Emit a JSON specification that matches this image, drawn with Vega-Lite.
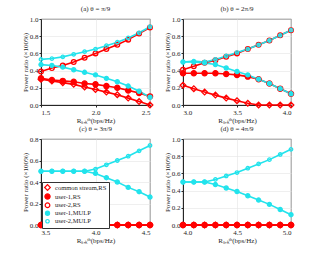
{
  "$schema": "https://vega.github.io/schema/vega-lite/v6.json",
  "background": "white",
  "padding": {"left": 20, "top": 4, "right": 0, "bottom": 2},
  "spacing": 0,
  "config": {
    "font": "Liberation Serif",
    "view": {"stroke": "#262626", "strokeWidth": 0.8},
    "concat": {"spacing": 6},
    "axis": {"labelFont": "Liberation Serif", "titleFont": "Liberation Serif", "labelFontSize": 7, "titleFontSize": 7, "titleFontWeight": "normal", "labelColor": "#262626", "titleColor": "#262626", "domainColor": "#262626", "tickColor": "#262626", "tickSize": 2, "gridColor": "#e4e4e4", "gridWidth": 0.6, "labelPadding": 1, "titlePadding": 1},
    "title": {"font": "Liberation Serif", "fontSize": 7, "fontWeight": "normal", "color": "#262626", "offset": 3},
    "legend": {"labelFont": "Liberation Serif", "labelFontSize": 6.5, "labelColor": "#262626", "orient": "none", "legendX": 1, "legendY": 163, "fillColor": "white", "strokeColor": "#333333", "padding": 2, "rowPadding": -2, "symbolStrokeWidth": 1.2, "labelLimit": 200, "labelOffset": 4, "title": null}
  },
  "data": {"values": [
    {"p":"a","s":"common stream,RS","x":1.5,"y":0.30},{"p":"a","s":"common stream,RS","x":1.6,"y":0.28},{"p":"a","s":"common stream,RS","x":1.7,"y":0.26},{"p":"a","s":"common stream,RS","x":1.8,"y":0.24},{"p":"a","s":"common stream,RS","x":1.9,"y":0.21},{"p":"a","s":"common stream,RS","x":2.0,"y":0.18},{"p":"a","s":"common stream,RS","x":2.1,"y":0.15},{"p":"a","s":"common stream,RS","x":2.2,"y":0.12},{"p":"a","s":"common stream,RS","x":2.3,"y":0.08},{"p":"a","s":"common stream,RS","x":2.4,"y":0.04},{"p":"a","s":"common stream,RS","x":2.5,"y":0.00},
    {"p":"a","s":"user-1,RS","x":1.5,"y":0.31},{"p":"a","s":"user-1,RS","x":1.6,"y":0.29},{"p":"a","s":"user-1,RS","x":1.7,"y":0.28},{"p":"a","s":"user-1,RS","x":1.8,"y":0.27},{"p":"a","s":"user-1,RS","x":1.9,"y":0.25},{"p":"a","s":"user-1,RS","x":2.0,"y":0.24},{"p":"a","s":"user-1,RS","x":2.1,"y":0.22},{"p":"a","s":"user-1,RS","x":2.2,"y":0.20},{"p":"a","s":"user-1,RS","x":2.3,"y":0.17},{"p":"a","s":"user-1,RS","x":2.4,"y":0.14},{"p":"a","s":"user-1,RS","x":2.5,"y":0.10},
    {"p":"a","s":"user-2,RS","x":1.5,"y":0.39},{"p":"a","s":"user-2,RS","x":1.6,"y":0.43},{"p":"a","s":"user-2,RS","x":1.7,"y":0.46},{"p":"a","s":"user-2,RS","x":1.8,"y":0.50},{"p":"a","s":"user-2,RS","x":1.9,"y":0.55},{"p":"a","s":"user-2,RS","x":2.0,"y":0.60},{"p":"a","s":"user-2,RS","x":2.1,"y":0.65},{"p":"a","s":"user-2,RS","x":2.2,"y":0.70},{"p":"a","s":"user-2,RS","x":2.3,"y":0.76},{"p":"a","s":"user-2,RS","x":2.4,"y":0.83},{"p":"a","s":"user-2,RS","x":2.5,"y":0.90},
    {"p":"a","s":"user-1,MULP","x":1.5,"y":0.47},{"p":"a","s":"user-1,MULP","x":1.6,"y":0.46},{"p":"a","s":"user-1,MULP","x":1.7,"y":0.44},{"p":"a","s":"user-1,MULP","x":1.8,"y":0.41},{"p":"a","s":"user-1,MULP","x":1.9,"y":0.38},{"p":"a","s":"user-1,MULP","x":2.0,"y":0.35},{"p":"a","s":"user-1,MULP","x":2.1,"y":0.31},{"p":"a","s":"user-1,MULP","x":2.2,"y":0.27},{"p":"a","s":"user-1,MULP","x":2.3,"y":0.22},{"p":"a","s":"user-1,MULP","x":2.4,"y":0.16},{"p":"a","s":"user-1,MULP","x":2.5,"y":0.09},
    {"p":"a","s":"user-2,MULP","x":1.5,"y":0.53},{"p":"a","s":"user-2,MULP","x":1.6,"y":0.54},{"p":"a","s":"user-2,MULP","x":1.7,"y":0.56},{"p":"a","s":"user-2,MULP","x":1.8,"y":0.59},{"p":"a","s":"user-2,MULP","x":1.9,"y":0.62},{"p":"a","s":"user-2,MULP","x":2.0,"y":0.65},{"p":"a","s":"user-2,MULP","x":2.1,"y":0.69},{"p":"a","s":"user-2,MULP","x":2.2,"y":0.73},{"p":"a","s":"user-2,MULP","x":2.3,"y":0.78},{"p":"a","s":"user-2,MULP","x":2.4,"y":0.84},{"p":"a","s":"user-2,MULP","x":2.5,"y":0.91},

    {"p":"b","s":"common stream,RS","x":3.0,"y":0.23},{"p":"b","s":"common stream,RS","x":3.1,"y":0.19},{"p":"b","s":"common stream,RS","x":3.2,"y":0.15},{"p":"b","s":"common stream,RS","x":3.3,"y":0.115},{"p":"b","s":"common stream,RS","x":3.4,"y":0.08},{"p":"b","s":"common stream,RS","x":3.5,"y":0.05},{"p":"b","s":"common stream,RS","x":3.6,"y":0.02},{"p":"b","s":"common stream,RS","x":3.7,"y":0.0},{"p":"b","s":"common stream,RS","x":3.8,"y":0.0},{"p":"b","s":"common stream,RS","x":3.9,"y":0.0},{"p":"b","s":"common stream,RS","x":4.0,"y":0.0},
    {"p":"b","s":"user-1,RS","x":3.0,"y":0.37},{"p":"b","s":"user-1,RS","x":3.1,"y":0.37},{"p":"b","s":"user-1,RS","x":3.2,"y":0.37},{"p":"b","s":"user-1,RS","x":3.3,"y":0.37},{"p":"b","s":"user-1,RS","x":3.4,"y":0.36},{"p":"b","s":"user-1,RS","x":3.5,"y":0.35},{"p":"b","s":"user-1,RS","x":3.6,"y":0.33},{"p":"b","s":"user-1,RS","x":3.7,"y":0.30},{"p":"b","s":"user-1,RS","x":3.8,"y":0.25},{"p":"b","s":"user-1,RS","x":3.9,"y":0.19},{"p":"b","s":"user-1,RS","x":4.0,"y":0.13},
    {"p":"b","s":"user-2,RS","x":3.0,"y":0.41},{"p":"b","s":"user-2,RS","x":3.1,"y":0.45},{"p":"b","s":"user-2,RS","x":3.2,"y":0.49},{"p":"b","s":"user-2,RS","x":3.3,"y":0.52},{"p":"b","s":"user-2,RS","x":3.4,"y":0.56},{"p":"b","s":"user-2,RS","x":3.5,"y":0.60},{"p":"b","s":"user-2,RS","x":3.6,"y":0.65},{"p":"b","s":"user-2,RS","x":3.7,"y":0.70},{"p":"b","s":"user-2,RS","x":3.8,"y":0.75},{"p":"b","s":"user-2,RS","x":3.9,"y":0.81},{"p":"b","s":"user-2,RS","x":4.0,"y":0.87},
    {"p":"b","s":"user-1,MULP","x":3.0,"y":0.50},{"p":"b","s":"user-1,MULP","x":3.1,"y":0.50},{"p":"b","s":"user-1,MULP","x":3.2,"y":0.49},{"p":"b","s":"user-1,MULP","x":3.3,"y":0.47},{"p":"b","s":"user-1,MULP","x":3.4,"y":0.43},{"p":"b","s":"user-1,MULP","x":3.5,"y":0.39},{"p":"b","s":"user-1,MULP","x":3.6,"y":0.35},{"p":"b","s":"user-1,MULP","x":3.7,"y":0.30},{"p":"b","s":"user-1,MULP","x":3.8,"y":0.25},{"p":"b","s":"user-1,MULP","x":3.9,"y":0.19},{"p":"b","s":"user-1,MULP","x":4.0,"y":0.13},
    {"p":"b","s":"user-2,MULP","x":3.0,"y":0.50},{"p":"b","s":"user-2,MULP","x":3.1,"y":0.51},{"p":"b","s":"user-2,MULP","x":3.2,"y":0.50},{"p":"b","s":"user-2,MULP","x":3.3,"y":0.53},{"p":"b","s":"user-2,MULP","x":3.4,"y":0.57},{"p":"b","s":"user-2,MULP","x":3.5,"y":0.61},{"p":"b","s":"user-2,MULP","x":3.6,"y":0.65},{"p":"b","s":"user-2,MULP","x":3.7,"y":0.70},{"p":"b","s":"user-2,MULP","x":3.8,"y":0.75},{"p":"b","s":"user-2,MULP","x":3.9,"y":0.81},{"p":"b","s":"user-2,MULP","x":4.0,"y":0.87},

    {"p":"c","s":"common stream,RS","x":3.5,"y":0},{"p":"c","s":"common stream,RS","x":3.6,"y":0},{"p":"c","s":"common stream,RS","x":3.7,"y":0},{"p":"c","s":"common stream,RS","x":3.8,"y":0},{"p":"c","s":"common stream,RS","x":3.9,"y":0},{"p":"c","s":"common stream,RS","x":4.0,"y":0},{"p":"c","s":"common stream,RS","x":4.1,"y":0},{"p":"c","s":"common stream,RS","x":4.2,"y":0},{"p":"c","s":"common stream,RS","x":4.3,"y":0},{"p":"c","s":"common stream,RS","x":4.4,"y":0},{"p":"c","s":"common stream,RS","x":4.5,"y":0},
    {"p":"c","s":"user-1,RS","x":3.5,"y":0},{"p":"c","s":"user-1,RS","x":3.6,"y":0},{"p":"c","s":"user-1,RS","x":3.7,"y":0},{"p":"c","s":"user-1,RS","x":3.8,"y":0},{"p":"c","s":"user-1,RS","x":3.9,"y":0},{"p":"c","s":"user-1,RS","x":4.0,"y":0},{"p":"c","s":"user-1,RS","x":4.1,"y":0},{"p":"c","s":"user-1,RS","x":4.2,"y":0},{"p":"c","s":"user-1,RS","x":4.3,"y":0},{"p":"c","s":"user-1,RS","x":4.4,"y":0},{"p":"c","s":"user-1,RS","x":4.5,"y":0},
    {"p":"c","s":"user-2,RS","x":3.5,"y":0},{"p":"c","s":"user-2,RS","x":3.6,"y":0},{"p":"c","s":"user-2,RS","x":3.7,"y":0},{"p":"c","s":"user-2,RS","x":3.8,"y":0},{"p":"c","s":"user-2,RS","x":3.9,"y":0},{"p":"c","s":"user-2,RS","x":4.0,"y":0},{"p":"c","s":"user-2,RS","x":4.1,"y":0},{"p":"c","s":"user-2,RS","x":4.2,"y":0},{"p":"c","s":"user-2,RS","x":4.3,"y":0},{"p":"c","s":"user-2,RS","x":4.4,"y":0},{"p":"c","s":"user-2,RS","x":4.5,"y":0},
    {"p":"c","s":"user-1,MULP","x":3.5,"y":0.50},{"p":"c","s":"user-1,MULP","x":3.6,"y":0.50},{"p":"c","s":"user-1,MULP","x":3.7,"y":0.50},{"p":"c","s":"user-1,MULP","x":3.8,"y":0.50},{"p":"c","s":"user-1,MULP","x":3.9,"y":0.50},{"p":"c","s":"user-1,MULP","x":4.0,"y":0.48},{"p":"c","s":"user-1,MULP","x":4.1,"y":0.44},{"p":"c","s":"user-1,MULP","x":4.2,"y":0.40},{"p":"c","s":"user-1,MULP","x":4.3,"y":0.35},{"p":"c","s":"user-1,MULP","x":4.4,"y":0.31},{"p":"c","s":"user-1,MULP","x":4.5,"y":0.26},
    {"p":"c","s":"user-2,MULP","x":3.5,"y":0.50},{"p":"c","s":"user-2,MULP","x":3.6,"y":0.50},{"p":"c","s":"user-2,MULP","x":3.7,"y":0.50},{"p":"c","s":"user-2,MULP","x":3.8,"y":0.50},{"p":"c","s":"user-2,MULP","x":3.9,"y":0.50},{"p":"c","s":"user-2,MULP","x":4.0,"y":0.52},{"p":"c","s":"user-2,MULP","x":4.1,"y":0.56},{"p":"c","s":"user-2,MULP","x":4.2,"y":0.60},{"p":"c","s":"user-2,MULP","x":4.3,"y":0.64},{"p":"c","s":"user-2,MULP","x":4.4,"y":0.69},{"p":"c","s":"user-2,MULP","x":4.5,"y":0.74},

    {"p":"d","s":"common stream,RS","x":4.0,"y":0},{"p":"d","s":"common stream,RS","x":4.1,"y":0},{"p":"d","s":"common stream,RS","x":4.2,"y":0},{"p":"d","s":"common stream,RS","x":4.3,"y":0},{"p":"d","s":"common stream,RS","x":4.4,"y":0},{"p":"d","s":"common stream,RS","x":4.5,"y":0},{"p":"d","s":"common stream,RS","x":4.6,"y":0},{"p":"d","s":"common stream,RS","x":4.7,"y":0},{"p":"d","s":"common stream,RS","x":4.8,"y":0},{"p":"d","s":"common stream,RS","x":4.9,"y":0},{"p":"d","s":"common stream,RS","x":5.0,"y":0},
    {"p":"d","s":"user-1,RS","x":4.0,"y":0},{"p":"d","s":"user-1,RS","x":4.1,"y":0},{"p":"d","s":"user-1,RS","x":4.2,"y":0},{"p":"d","s":"user-1,RS","x":4.3,"y":0},{"p":"d","s":"user-1,RS","x":4.4,"y":0},{"p":"d","s":"user-1,RS","x":4.5,"y":0},{"p":"d","s":"user-1,RS","x":4.6,"y":0},{"p":"d","s":"user-1,RS","x":4.7,"y":0},{"p":"d","s":"user-1,RS","x":4.8,"y":0},{"p":"d","s":"user-1,RS","x":4.9,"y":0},{"p":"d","s":"user-1,RS","x":5.0,"y":0},
    {"p":"d","s":"user-2,RS","x":4.0,"y":0},{"p":"d","s":"user-2,RS","x":4.1,"y":0},{"p":"d","s":"user-2,RS","x":4.2,"y":0},{"p":"d","s":"user-2,RS","x":4.3,"y":0},{"p":"d","s":"user-2,RS","x":4.4,"y":0},{"p":"d","s":"user-2,RS","x":4.5,"y":0},{"p":"d","s":"user-2,RS","x":4.6,"y":0},{"p":"d","s":"user-2,RS","x":4.7,"y":0},{"p":"d","s":"user-2,RS","x":4.8,"y":0},{"p":"d","s":"user-2,RS","x":4.9,"y":0},{"p":"d","s":"user-2,RS","x":5.0,"y":0},
    {"p":"d","s":"user-1,MULP","x":4.0,"y":0.50},{"p":"d","s":"user-1,MULP","x":4.1,"y":0.50},{"p":"d","s":"user-1,MULP","x":4.2,"y":0.50},{"p":"d","s":"user-1,MULP","x":4.3,"y":0.47},{"p":"d","s":"user-1,MULP","x":4.4,"y":0.43},{"p":"d","s":"user-1,MULP","x":4.5,"y":0.39},{"p":"d","s":"user-1,MULP","x":4.6,"y":0.34},{"p":"d","s":"user-1,MULP","x":4.7,"y":0.29},{"p":"d","s":"user-1,MULP","x":4.8,"y":0.24},{"p":"d","s":"user-1,MULP","x":4.9,"y":0.18},{"p":"d","s":"user-1,MULP","x":5.0,"y":0.12},
    {"p":"d","s":"user-2,MULP","x":4.0,"y":0.50},{"p":"d","s":"user-2,MULP","x":4.1,"y":0.50},{"p":"d","s":"user-2,MULP","x":4.2,"y":0.50},{"p":"d","s":"user-2,MULP","x":4.3,"y":0.53},{"p":"d","s":"user-2,MULP","x":4.4,"y":0.57},{"p":"d","s":"user-2,MULP","x":4.5,"y":0.61},{"p":"d","s":"user-2,MULP","x":4.6,"y":0.66},{"p":"d","s":"user-2,MULP","x":4.7,"y":0.71},{"p":"d","s":"user-2,MULP","x":4.8,"y":0.76},{"p":"d","s":"user-2,MULP","x":4.9,"y":0.82},{"p":"d","s":"user-2,MULP","x":5.0,"y":0.88}
  ]},
  "vconcat": [
    {"hconcat": [
      {"title": "(a) θ = π/9", "width": 109, "height": 86, "transform": [{"filter": "datum.p == 'a'"}],
       "encoding": {
         "x": {"field": "x", "type": "quantitative", "scale": {"domain": [1.5, 2.5], "nice": false}, "axis": {"values": [1.5, 2, 2.5], "title": "Rₛ,ₖᵗʰ(bps/Hz)"}},
         "y": {"field": "y", "type": "quantitative", "scale": {"domain": [0, 1], "nice": false}, "axis": {"values": [0, 0.2, 0.4, 0.6, 0.8, 1], "title": "Power ratio (×100%)"}}
       },
       "layer": [
         {"mark": {"type": "line", "strokeWidth": 1.6}, "encoding": {"stroke": {"field": "s", "type": "nominal", "scale": {"domain": ["common stream,RS", "user-1,RS", "user-2,RS", "user-1,MULP", "user-2,MULP"], "range": ["#ff0000", "#ff0000", "#ff0000", "#22e3ec", "#22e3ec"]}}, "order": {"field": "x"}}},
         {"mark": {"type": "point", "strokeWidth": 1.3}, "encoding": {"stroke": {"field": "s", "type": "nominal"}, "fill": {"field": "s", "type": "nominal", "scale": {"domain": ["common stream,RS", "user-1,RS", "user-2,RS", "user-1,MULP", "user-2,MULP"], "range": ["transparent", "#ff0000", "transparent", "#22e3ec", "transparent"]}}, "shape": {"field": "s", "type": "nominal", "scale": {"domain": ["common stream,RS", "user-1,RS", "user-2,RS", "user-1,MULP", "user-2,MULP"], "range": ["diamond", "circle", "circle", "circle", "circle"]}}, "size": {"field": "s", "type": "nominal", "scale": {"domain": ["common stream,RS", "user-1,RS", "user-2,RS", "user-1,MULP", "user-2,MULP"], "range": [32, 12, 30, 12, 36]}}, "opacity": {"value": 1}}}
       ]},
      {"title": "(b) θ = 2π/9", "width": 108, "height": 86, "transform": [{"filter": "datum.p == 'b'"}],
       "encoding": {
         "x": {"field": "x", "type": "quantitative", "scale": {"domain": [3, 4], "nice": false}, "axis": {"values": [3, 3.5, 4], "title": "Rₛ,ₖᵗʰ(bps/Hz)"}},
         "y": {"field": "y", "type": "quantitative", "scale": {"domain": [0, 1], "nice": false}, "axis": {"values": [0, 0.2, 0.4, 0.6, 0.8, 1], "title": "Power ratio (×100%)"}}
       },
       "layer": [
         {"mark": {"type": "line", "strokeWidth": 1.6}, "encoding": {"stroke": {"field": "s", "type": "nominal"}, "order": {"field": "x"}}},
         {"mark": {"type": "point", "strokeWidth": 1.3}, "encoding": {"stroke": {"field": "s", "type": "nominal"}, "fill": {"field": "s", "type": "nominal"}, "shape": {"field": "s", "type": "nominal"}, "size": {"field": "s", "type": "nominal"}, "opacity": {"value": 1}}}
       ]}
    ]},
    {"hconcat": [
      {"title": "(c) θ = 3π/9", "width": 109, "height": 86, "transform": [{"filter": "datum.p == 'c'"}],
       "encoding": {
         "x": {"field": "x", "type": "quantitative", "scale": {"domain": [3.5, 4.5], "nice": false}, "axis": {"values": [3.5, 4, 4.5], "title": "Rₛ,ₖᵗʰ(bps/Hz)"}},
         "y": {"field": "y", "type": "quantitative", "scale": {"domain": [0, 0.8], "nice": false}, "axis": {"values": [0, 0.2, 0.4, 0.6, 0.8], "title": "Power ratio (×100%)"}}
       },
       "layer": [
         {"mark": {"type": "line", "strokeWidth": 1.6}, "encoding": {"stroke": {"field": "s", "type": "nominal"}, "order": {"field": "x"}}},
         {"mark": {"type": "point", "strokeWidth": 1.3}, "encoding": {"stroke": {"field": "s", "type": "nominal"}, "fill": {"field": "s", "type": "nominal"}, "shape": {"field": "s", "type": "nominal"}, "size": {"field": "s", "type": "nominal"}, "opacity": {"value": 1}}}
       ]},
      {"title": "(d) θ = 4π/9", "width": 108, "height": 86, "transform": [{"filter": "datum.p == 'd'"}],
       "encoding": {
         "x": {"field": "x", "type": "quantitative", "scale": {"domain": [4, 5], "nice": false}, "axis": {"values": [4, 4.5, 5], "title": "Rₛ,ₖᵗʰ(bps/Hz)"}},
         "y": {"field": "y", "type": "quantitative", "scale": {"domain": [0, 1], "nice": false}, "axis": {"values": [0, 0.2, 0.4, 0.6, 0.8, 1], "title": "Power ratio (×100%)"}}
       },
       "layer": [
         {"mark": {"type": "line", "strokeWidth": 1.6}, "encoding": {"stroke": {"field": "s", "type": "nominal"}, "order": {"field": "x"}}},
         {"mark": {"type": "point", "strokeWidth": 1.3}, "encoding": {"stroke": {"field": "s", "type": "nominal"}, "fill": {"field": "s", "type": "nominal"}, "shape": {"field": "s", "type": "nominal"}, "size": {"field": "s", "type": "nominal"}, "opacity": {"value": 1}}}
       ]}
    ]}
  ]
}
